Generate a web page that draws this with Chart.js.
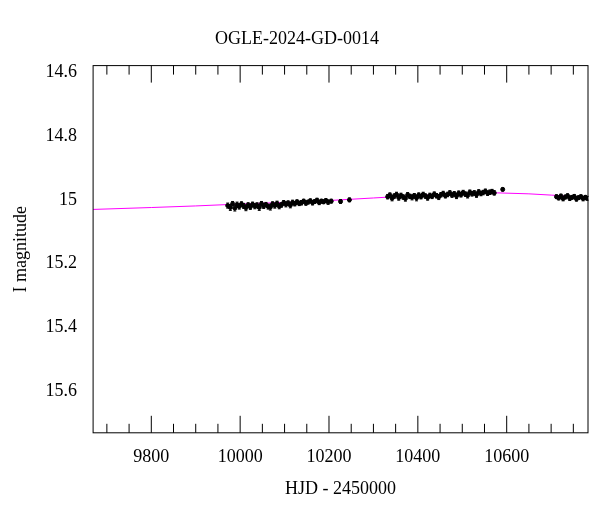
<!DOCTYPE html>
<html><head><meta charset="utf-8">
<script src="https://cdn.jsdelivr.net/npm/chart.js@4.4.0/dist/chart.umd.min.js"></script>
<style>body{margin:0;background:#fff}#w{width:600px;height:512px}</style>
</head><body><div id="w"><canvas id="c"></canvas></div>
<script>
const obsHJD = [9972,9978,9983,9988,9993,9998,10003,10008,10013,10018,10023,10028,10033,10038,10043,10048,10053,10058,10063,10068,10073,10078,10083,10088,10093,10098,10103,10108,10113,10118,10123,10128,10133,10138,10143,10148,10153,10158,10163,10168,10173,10178,10183,10188,10193,10198,10205,10226,10246,
10332,10337,10342,10347,10352,10357,10362,10367,10372,10377,10382,10387,10392,10397,10402,10407,10412,10417,10422,10427,10432,10437,10442,10447,10452,10457,10462,10467,10472,10477,10482,10487,10492,10497,10502,10507,10512,10517,10522,10527,10532,10537,10542,10547,10552,10557,10562,10567,10572,10591,
10712,10717,10722,10727,10732,10737,10742,10747,10752,10757,10762,10767,10772,10777,10781];
const obsMag = [15.018,15.024,15.012,15.026,15.015,15.021,15.013,15.019,15.025,15.016,15.022,15.014,15.020,15.017,15.024,15.012,15.019,15.015,15.021,15.023,15.013,15.018,15.011,15.020,15.016,15.009,15.014,15.010,15.017,15.008,15.012,15.006,15.011,15.009,15.004,15.010,15.007,15.003,15.009,15.005,15.001,15.008,15.004,15.006,15.002,15.007,15.004,15.005,15.000,
14.990,14.985,14.995,14.988,14.983,14.993,14.986,14.991,14.996,14.984,14.989,14.992,14.987,14.994,14.985,14.990,14.983,14.988,14.993,14.986,14.989,14.982,14.987,14.991,14.984,14.980,14.987,14.983,14.978,14.985,14.981,14.988,14.979,14.984,14.977,14.982,14.986,14.976,14.981,14.978,14.984,14.975,14.980,14.977,14.973,14.979,14.976,14.974,14.978,14.967,
14.990,14.994,14.988,14.996,14.991,14.987,14.995,14.992,14.989,14.997,14.993,14.990,14.996,14.992,14.995];
const obsErr = [0.008,0.009,0.007,0.009,0.008,0.008,0.007,0.008,0.009,0.007,0.008,0.007,0.008,0.008,0.009,0.007,0.008,0.007,0.008,0.009,0.007,0.008,0.007,0.008,0.007,0.007,0.008,0.007,0.008,0.007,0.007,0.006,0.007,0.007,0.006,0.007,0.006,0.006,0.007,0.006,0.006,0.007,0.006,0.006,0.006,0.007,0.006,0.006,0.006,
0.007,0.007,0.008,0.007,0.007,0.008,0.007,0.007,0.008,0.007,0.007,0.008,0.007,0.009,0.007,0.007,0.007,0.007,0.008,0.007,0.007,0.007,0.007,0.008,0.007,0.007,0.007,0.007,0.007,0.007,0.007,0.008,0.007,0.007,0.007,0.007,0.008,0.007,0.007,0.007,0.008,0.007,0.007,0.007,0.007,0.007,0.007,0.007,0.007,0.005,
0.006,0.006,0.006,0.007,0.006,0.006,0.007,0.006,0.006,0.007,0.006,0.006,0.007,0.006,0.006];
const modelHJD = [9669,9800,9900,10000,10100,10200,10300,10400,10500,10580,10650,10700,10783];
const modelMag = [15.030,15.024,15.019,15.013,15.008,15.002,14.994,14.986,14.980,14.978,14.981,14.985,14.992];
const xMajor = [9800,10000,10200,10400,10600];
const yMajor = [14.6,14.8,15,15.2,15.4,15.6];
const xMin=9669, xMax=10783, yMin=14.578, yMax=15.732;

const serif = "'Liberation Serif','DejaVu Serif',serif";
const ticksPlugin = {
  id:'ticks',
  afterDatasetsDraw(chart){
    const {ctx, chartArea:a, scales:{x,y}} = chart;
    ctx.save();
    ctx.strokeStyle='#000'; ctx.lineWidth=1;
    for(let i=0;i<obsHJD.length;i++){
      const px=x.getPixelForValue(obsHJD[i]);
      const p1=y.getPixelForValue(obsMag[i]-obsErr[i]), p2=y.getPixelForValue(obsMag[i]+obsErr[i]);
      ctx.beginPath();ctx.moveTo(px,p1);ctx.lineTo(px,p2);
      ctx.moveTo(px-1.5,p1);ctx.lineTo(px+1.5,p1);ctx.moveTo(px-1.5,p2);ctx.lineTo(px+1.5,p2);ctx.stroke();
    }
    ctx.strokeRect(a.left,a.top,a.right-a.left,a.bottom-a.top);
    for(let v=9700; v<=10780; v+=50){
      const px=x.getPixelForValue(v); const L = v%200===0?17:9;
      ctx.beginPath();ctx.moveTo(px,a.bottom);ctx.lineTo(px,a.bottom-L);ctx.moveTo(px,a.top);ctx.lineTo(px,a.top+L);ctx.stroke();
    }
    for(let k=12; k<=31; k++){
      const v=k*0.05; const py=y.getPixelForValue(v); const L = (k%4===0)?17:9;
      ctx.beginPath();ctx.moveTo(a.left,py);ctx.lineTo(a.left+L,py);ctx.moveTo(a.right,py);ctx.lineTo(a.right-L,py);ctx.stroke();
    }
    ctx.restore();
  }
};
new Chart(document.getElementById('c'),{
  type:'scatter',
  data:{datasets:[
    {data:modelHJD.map((v,i)=>({x:v,y:modelMag[i]})),showLine:true,borderColor:'#ff00ff',borderWidth:1,pointRadius:0,order:2},
    {data:obsHJD.map((v,i)=>({x:v,y:obsMag[i]})),backgroundColor:'#000',borderColor:'#000',pointRadius:2,order:1}
  ]},
  options:{
    responsive:true,maintainAspectRatio:false,animation:false,
    layout:{padding:{top:16,right:12,left:6,bottom:8}},
    plugins:{legend:{display:false},tooltip:{enabled:false},
      title:{display:true,text:'OGLE-2024-GD-0014',color:'#000',font:{family:serif,size:18,weight:'normal'},padding:{top:12,bottom:16}}},
    scales:{
      x:{type:'linear',min:xMin,max:xMax,grid:{display:false},border:{display:false},
        afterBuildTicks(s){s.ticks=xMajor.map(v=>({value:v}));},
        ticks:{color:'#000',font:{family:serif,size:18},padding:6,maxRotation:0,callback:v=>String(v)},
        title:{display:true,text:'HJD - 2450000',color:'#000',font:{family:serif,size:18},padding:{top:4}}},
      y:{type:'linear',reverse:true,min:yMin,max:yMax,grid:{display:false},border:{display:false},
        afterBuildTicks(s){s.ticks=yMajor.map(v=>({value:v}));},
        ticks:{color:'#000',font:{family:serif,size:18},padding:8,callback:v=>String(v)},
        title:{display:true,text:'I magnitude',color:'#000',font:{family:serif,size:18},padding:{bottom:6}}}
    }
  },
  plugins:[ticksPlugin]
});
</script></body></html>
